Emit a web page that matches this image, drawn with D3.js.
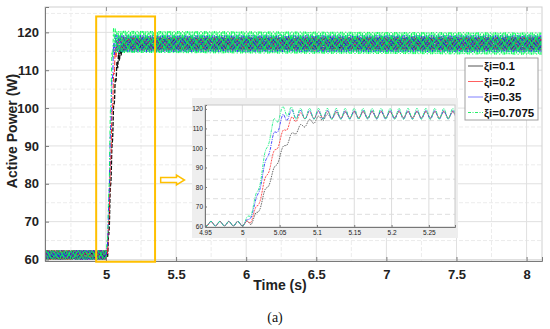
<!DOCTYPE html>
<html>
<head>
<meta charset="utf-8">
<style>
  body { margin: 0; background: #fff; }
  svg { display: block; font-family: 'Liberation Sans', Arial, sans-serif; }
</style>
</head>
<body>
<svg id="chart" width="550" height="329"></svg>
<script src="https://d3js.org/d3.v7.min.js"></script>
<script>
// ---- data ----
const seriesNames = ["ξi=0.1", "ξi=0.2", "ξi=0.35", "ξi=0.7075"];

// slow trend of each response (time s, power W)
const blackT = [4.55, 5.005, 5.012, 5.021, 5.03, 5.04, 5.049, 5.058, 5.071, 5.085, 5.103, 5.121, 5.15, 8.2];
const blackP = [61.2, 61.2, 62, 67, 77, 86, 95, 102, 108.5, 112.5, 115, 116.5, 117, 117];
const redT   = [4.55, 5.005, 5.01, 5.021, 5.03, 5.04, 5.049, 5.058, 5.067, 5.08, 5.1, 8.2];
const redP   = [61.2, 61.2, 62, 70.5, 82.5, 94.5, 103, 110, 114.5, 116.5, 117, 117];
const blueT  = [4.55, 5.003, 5.008, 5.017, 5.026, 5.035, 5.042, 5.049, 5.055, 5.067, 5.08, 8.2];
const blueP  = [61.2, 61.2, 62.5, 70.5, 84, 98, 105.5, 111.5, 115.5, 117.5, 117, 117];
const greenT = [4.55, 5.003, 5.012, 5.021, 5.03, 5.037, 5.042, 5.049, 5.058, 5.07, 8.2];
const greenP = [61.2, 61.2, 67, 78, 95, 107, 112, 117, 119.5, 117.5, 117];

// ripple riding on every response: one cycle and its size
const rippleShape = [0, 0.71, 1, 0.71, 0, -0.71, -1, -0.71];
const ripplePeriod = 0.012;
const preAmp  = [1.2, 1.2, 1.2, 1.2];
const postAmp = [1.5, 1.8, 2.2, 2.9];

const xTicks = [5, 5.5, 6, 6.5, 7, 7.5, 8];
const yTicks = [60, 70, 80, 90, 100, 110, 120];
const insetXTicks = [4.95, 5, 5.05, 5.1, 5.15, 5.2, 5.25];
const insetYTicks = [60, 70, 80, 90, 100, 110, 120];
const insetDashY = [66, 74, 84, 96, 106.5, 114];

// zoom box (data coords) and arrow
const zoomBox = { t0: 4.93, t1: 5.35, p0: 59.4, p1: 124.2 };
const arrowAt = { t0: 5.39, t1: 5.56, p: 81 };

// ---- layout ----
const svg = d3.select("#chart");
const M = { left: 45, right: 542, top: 7, bottom: 261 };
const x = d3.scaleLinear().domain([4.565, 8.11]).range([M.left, M.right]);
const y = d3.scaleLinear().domain([59.6, 126.7]).range([M.bottom, M.top]);

const trends = [[blackT, blackP], [redT, redP], [blueT, blueP], [greenT, greenP]];

function trendAt(i, t) {
  const [ts, ps] = trends[i];
  return d3.scaleLinear().domain(ts).range(ps).clamp(true)(t);
}
function samples(i, tStart, tEnd) {
  const step = ripplePeriod / rippleShape.length;
  const out = [];
  const k0 = Math.floor((tStart - 5.0) / step), k1 = Math.ceil((tEnd - 5.0) / step);
  for (let k = k0; k <= k1; k++) {
    const t = 5.0 + k * step;
    const idx = (((k + 6) % 8) + 8) % 8;
    const a = t < 5.0 ? preAmp[i] : t > 5.05 ? postAmp[i] : preAmp[i] + (postAmp[i] - preAmp[i]) * (t - 5.0) / 0.05;
    out.push([t, trendAt(i, t) + a * rippleShape[idx]]);
  }
  return out;
}

const mainStyle = [
  { c: "#111", w: 1.3, d: "4,1.5" },
  { c: "#ff2a2a", w: 1.0, d: "5,1.5" },
  { c: "#2020ff", w: 0.9, d: "5,1.5,1,1.5" },
  { c: "#00ff55", w: 0.9, d: "4,2.5,1.5,2.5" }
];
const insetStyle = [
  { c: "#555", w: 0.9, d: "1.5,1" },
  { c: "#ff4040", w: 0.9, d: "2,1" },
  { c: "#3a3aff", w: 0.9, d: "3,1,1,1" },
  { c: "#22ee88", w: 0.9, d: "3,1,1,1" }
];
const legendStyle = [
  { c: "#555", w: 1, d: null },
  { c: "#ff6060", w: 1, d: null },
  { c: "#8080ff", w: 1, d: null },
  { c: "#22ee66", w: 1.2, d: "3,1.5,1,1.5" }
];

// ---- main grid ----
const grid = svg.append("g");
const minorX = d3.range(4.75, 8.11, 0.5);
const minorY = d3.range(65, 126, 10);
grid.selectAll(".mx").data(minorX).join("line")
  .attr("x1", d => x(d)).attr("x2", d => x(d)).attr("y1", M.top).attr("y2", M.bottom)
  .attr("stroke", "#ececec").attr("stroke-dasharray", "4,2");
grid.selectAll(".my").data(minorY).join("line")
  .attr("x1", M.left).attr("x2", M.right).attr("y1", d => y(d)).attr("y2", d => y(d))
  .attr("stroke", "#ececec").attr("stroke-dasharray", "4,2");
grid.selectAll(".gx").data(xTicks).join("line")
  .attr("x1", d => x(d)).attr("x2", d => x(d)).attr("y1", M.top).attr("y2", M.bottom)
  .attr("stroke", "#e0e0e0");
grid.selectAll(".gy").data(yTicks).join("line")
  .attr("x1", M.left).attr("x2", M.right).attr("y1", d => y(d)).attr("y2", d => y(d))
  .attr("stroke", "#e0e0e0");

// ---- main curves ----
svg.append("clipPath").attr("id", "clipMain").append("rect")
  .attr("x", M.left).attr("y", M.top).attr("width", M.right - M.left).attr("height", M.bottom - M.top);
const line = d3.line().x(d => x(d[0])).y(d => y(d[1]));
const curves = svg.append("g").attr("clip-path", "url(#clipMain)");
seriesNames.forEach((n, i) => {
  curves.append("path")
    .datum(samples(i, 4.56, 8.12))
    .attr("d", line)
    .attr("fill", "none")
    .attr("stroke", mainStyle[i].c)
    .attr("stroke-width", mainStyle[i].w)
    .attr("stroke-dasharray", mainStyle[i].d);
});

// ---- axes box ----
svg.append("rect").attr("x", M.left).attr("y", M.top)
  .attr("width", M.right - M.left).attr("height", M.bottom - M.top)
  .attr("fill", "none").attr("stroke", "#d0d0d0");
svg.append("g").attr("transform", `translate(0,${M.bottom})`)
  .call(d3.axisBottom(x).tickValues(xTicks).tickSize(-4).tickPadding(9).tickFormat(d3.format("")))
  .call(g => g.select(".domain").attr("stroke", "#7a7a7a"))
  .call(g => g.selectAll(".tick line").attr("stroke", "#7a7a7a"))
  .call(g => g.selectAll("text").attr("font-size", 13).attr("font-weight", "bold").attr("fill", "#222")
    .attr("font-family", "'Liberation Sans', Arial, sans-serif"));
svg.append("g").attr("transform", `translate(0,${M.top})`)
  .call(d3.axisTop(x).tickValues(xTicks).tickSize(-4).tickFormat(""))
  .call(g => g.select(".domain").remove())
  .call(g => g.selectAll(".tick line").attr("stroke", "#9a9a9a"));
svg.append("g").attr("transform", `translate(${M.left},0)`)
  .call(d3.axisLeft(y).tickValues(yTicks).tickSize(-4).tickPadding(6))
  .call(g => g.select(".domain").attr("stroke", "#7a7a7a"))
  .call(g => g.selectAll(".tick line").attr("stroke", "#7a7a7a"))
  .call(g => g.selectAll("text").attr("font-size", 13).attr("font-weight", "bold").attr("fill", "#222")
    .attr("font-family", "'Liberation Sans', Arial, sans-serif"));

// ---- axis titles ----
svg.append("text").attr("x", 280).attr("y", 290).attr("text-anchor", "middle")
  .attr("font-size", 14).attr("font-weight", "bold").attr("fill", "#222").text("Time (s)");
svg.append("text").attr("transform", "translate(17,131) rotate(-90)").attr("text-anchor", "middle")
  .attr("font-size", 14).attr("font-weight", "bold").attr("fill", "#222").text("Active Power (W)");
svg.append("text").attr("x", 275).attr("y", 322).attr("text-anchor", "middle")
  .attr("font-family", "'Liberation Serif', 'Times New Roman', serif").attr("font-size", 14)
  .attr("fill", "#111").text("(a)");

// ---- zoom box and arrow ----
svg.append("rect")
  .attr("x", x(zoomBox.t0)).attr("y", y(zoomBox.p1))
  .attr("width", x(zoomBox.t1) - x(zoomBox.t0)).attr("height", y(zoomBox.p0) - y(zoomBox.p1))
  .attr("fill", "none").attr("stroke", "#ffc000").attr("stroke-width", 2);
{
  const ax0 = x(arrowAt.t0), ax1 = x(arrowAt.t1), ay = y(arrowAt.p);
  const hx = ax1 - 8;
  svg.append("path")
    .attr("d", `M${ax0},${ay - 2.5}L${hx},${ay - 2.5}L${hx},${ay - 5}L${ax1},${ay}L${hx},${ay + 5}L${hx},${ay + 2.5}L${ax0},${ay + 2.5}Z`)
    .attr("fill", "#fff").attr("stroke", "#ffc000").attr("stroke-width", 1.5);
}

// ---- inset ----
const P = { left: 192, right: 458, top: 98, bottom: 238 };
const I = { left: 205, right: 455, top: 105, bottom: 227 };
const xi = d3.scaleLinear().domain([4.95, 5.285]).range([I.left, I.right]);
const yi = d3.scaleLinear().domain([59.5, 122]).range([I.bottom, I.top]);
const inset = svg.append("g");
inset.append("rect").attr("x", P.left).attr("y", P.top)
  .attr("width", P.right - P.left).attr("height", P.bottom - P.top)
  .attr("fill", "#eeeeee");
inset.append("rect").attr("x", I.left).attr("y", I.top)
  .attr("width", I.right - I.left).attr("height", I.bottom - I.top)
  .attr("fill", "#fff");
inset.selectAll(".igx").data(insetXTicks).join("line")
  .attr("x1", d => xi(d)).attr("x2", d => xi(d)).attr("y1", I.top).attr("y2", I.bottom)
  .attr("stroke", "#dcdcdc");
inset.selectAll(".igy").data(insetDashY).join("line")
  .attr("x1", I.left).attr("x2", I.right).attr("y1", d => yi(d)).attr("y2", d => yi(d))
  .attr("stroke", "#dedede").attr("stroke-dasharray", "5,3");
inset.append("clipPath").attr("id", "clipInset").append("rect")
  .attr("x", I.left).attr("y", I.top - 1).attr("width", I.right - I.left).attr("height", I.bottom - I.top + 2);
const iline = d3.line().x(d => xi(d[0])).y(d => yi(d[1]));
const icurves = inset.append("g").attr("clip-path", "url(#clipInset)");
seriesNames.forEach((n, i) => {
  icurves.append("path")
    .datum(samples(i, 4.94, 5.3))
    .attr("d", iline)
    .attr("fill", "none")
    .attr("stroke", insetStyle[i].c)
    .attr("stroke-width", insetStyle[i].w)
    .attr("stroke-dasharray", insetStyle[i].d);
});
inset.append("rect").attr("x", I.left).attr("y", I.top)
  .attr("width", I.right - I.left).attr("height", I.bottom - I.top)
  .attr("fill", "none").attr("stroke", "#c8c8c8");
inset.append("g").attr("transform", `translate(0,${I.bottom})`)
  .call(d3.axisBottom(xi).tickValues(insetXTicks).tickSize(-2).tickPadding(3).tickFormat(d3.format("")))
  .call(g => g.select(".domain").attr("stroke", "#777"))
  .call(g => g.selectAll(".tick line").attr("stroke", "#777"))
  .call(g => g.selectAll("text").attr("font-size", 6.5).attr("fill", "#222")
    .attr("font-family", "'Liberation Sans', Arial, sans-serif"));
inset.append("g").attr("transform", `translate(${I.left},0)`)
  .call(d3.axisLeft(yi).tickValues(insetYTicks).tickSize(-2).tickPadding(2))
  .call(g => g.select(".domain").attr("stroke", "#777"))
  .call(g => g.selectAll(".tick line").attr("stroke", "#777"))
  .call(g => g.selectAll("text").attr("font-size", 6.5).attr("fill", "#222")
    .attr("font-family", "'Liberation Sans', Arial, sans-serif"));

// ---- legend ----
const L = { x: 465, y: 58, w: 73, h: 62, row: 15.5 };
const legend = svg.append("g");
legend.append("rect").attr("x", L.x).attr("y", L.y).attr("width", L.w).attr("height", L.h)
  .attr("fill", "#fff").attr("stroke", "#a0a0a0");
const rows = legend.selectAll(".lg").data(seriesNames).join("g")
  .attr("transform", (d, i) => `translate(${L.x},${L.y + 8 + i * L.row})`);
rows.append("line").attr("x1", 3).attr("x2", 18).attr("y1", 0).attr("y2", 0)
  .attr("stroke", (d, i) => legendStyle[i].c)
  .attr("stroke-width", (d, i) => legendStyle[i].w)
  .attr("stroke-dasharray", (d, i) => legendStyle[i].d);
rows.append("text").attr("x", 19).attr("y", 4).attr("font-size", 11.5).attr("font-weight", "bold")
  .attr("fill", "#111").text(d => d);
</script>
</body>
</html>
